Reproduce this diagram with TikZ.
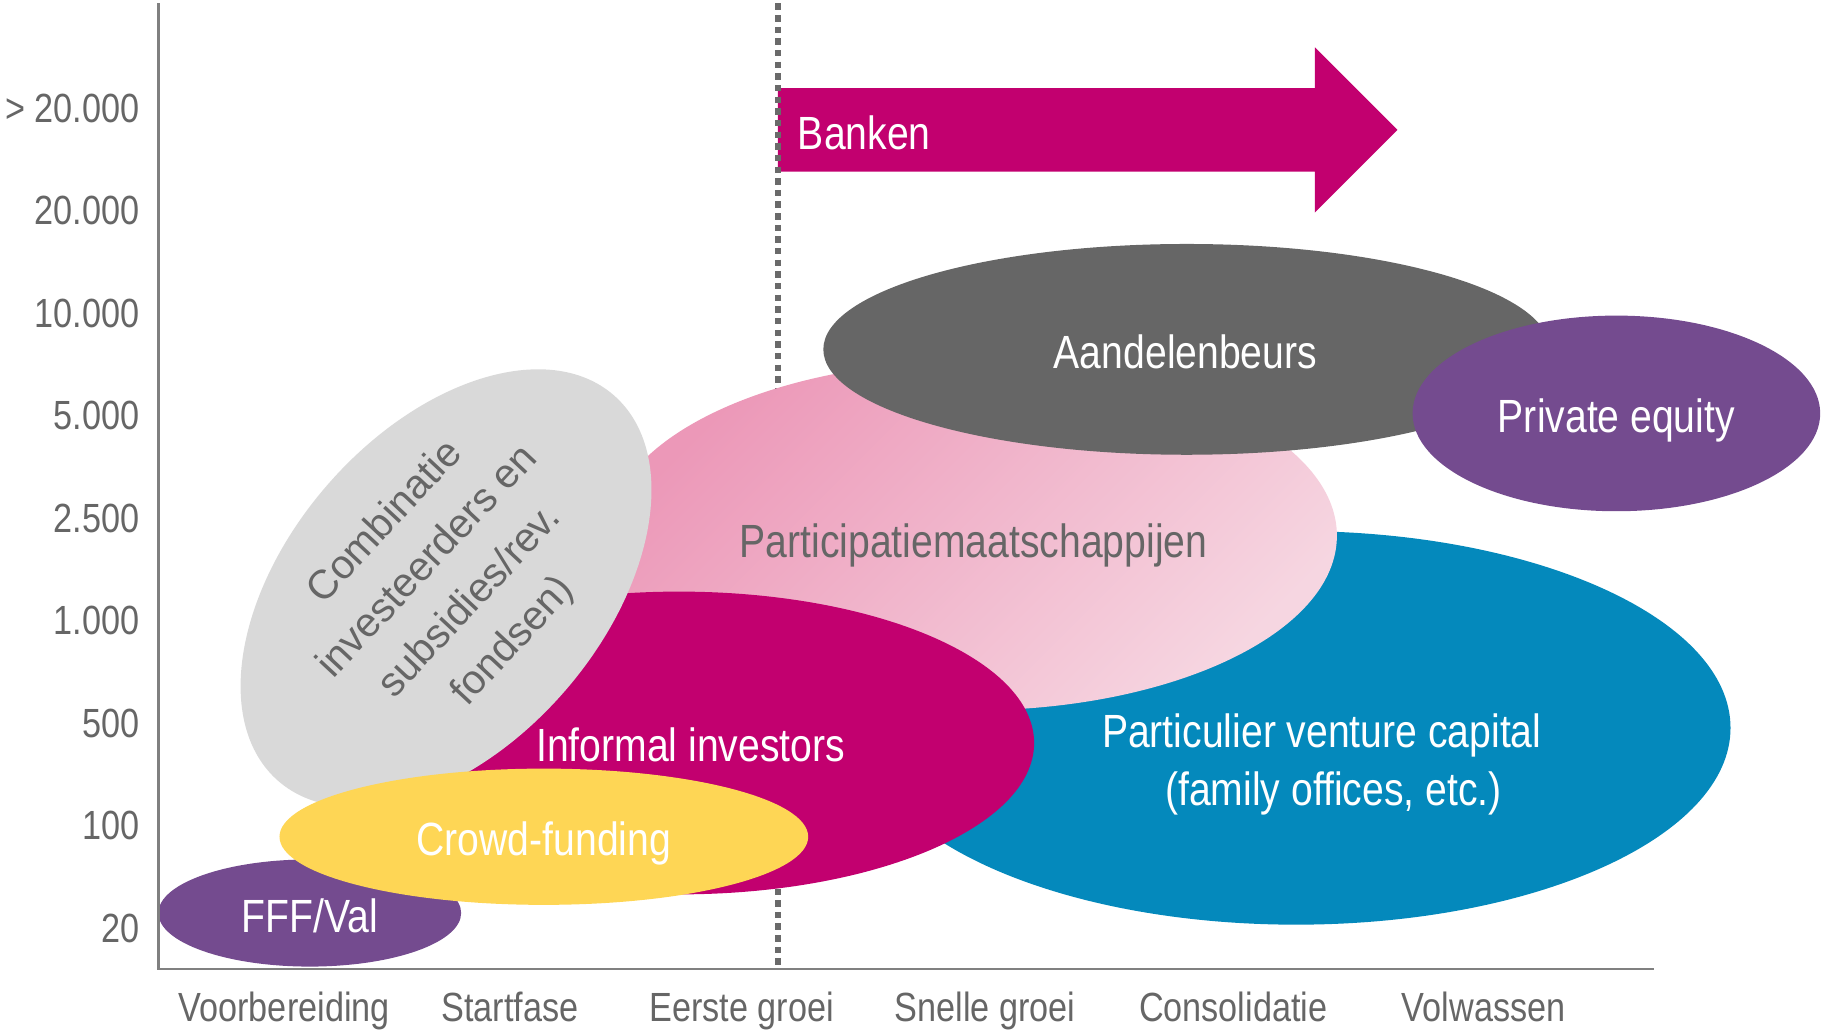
\documentclass[tikz,border=0pt]{standalone}
\usepackage{fontspec}
\setmainfont{Liberation Sans}
\newfontfamily\narrowfont{Liberation Sans}[FakeStretch=0.84]
\newfontfamily\widefont{Liberation Sans}
\usetikzlibrary{shapes.geometric}
\definecolor{magentaC}{HTML}{C2006F}
\definecolor{darkgrayC}{HTML}{666666}
\definecolor{lightgrayC}{HTML}{D9D9D9}
\definecolor{purpleC}{HTML}{744B8F}
\definecolor{yellowC}{HTML}{FED655}
\definecolor{blueC}{HTML}{0489BC}
\definecolor{pinkA}{HTML}{EC98B8}
\definecolor{pinkB}{HTML}{F6D6E1}
\definecolor{textgray}{HTML}{666666}
\definecolor{axisgray}{HTML}{808080}
\definecolor{dashgray}{HTML}{6A6A6A}
\begin{document}
\begin{tikzpicture}[x=1pt,y=-1pt,
  blob/.style={ellipse, inner sep=0pt, outer sep=0pt, draw=none},
  biglabel/.style={font=\narrowfont\fontsize{40}{50}\selectfont, text=white, inner sep=0pt, anchor=base, align=center},
  axislabel/.style={font=\narrowfont\fontsize{35}{40}\selectfont, text=textgray, inner sep=0pt},
  axisline/.style={draw=axisgray, line width=2pt},
]
\useasboundingbox (0,0) rectangle (1568,884);

% Banken arrow
\fill[magentaC] (668,75.7) -- (1129,75.7) -- (1129,40.6) -- (1200,111.6) -- (1129,182.6) -- (1129,147.4) -- (668,147.4) -- cycle;

% dashed separator
\coordinate (dtop) at (668,3);
\coordinate (dbot) at (668,832);
\draw[dashgray, line width=4.5pt, dash pattern=on 5.5pt off 4.5pt] (dtop) -- (dbot);

% ellipses
\node[blob, fill=blueC, minimum width=746pt, minimum height=338pt] (pvc) at (1113,625) {};
\node[blob, top color=pinkA, bottom color=pinkB, shading angle=45, minimum width=626pt, minimum height=300pt] (pm) at (835,460) {};
\node[blob, fill=darkgrayC, minimum width=624pt, minimum height=181pt] (ab) at (1019,300) {};
\node[blob, fill=purpleC, minimum width=350pt, minimum height=168pt] (pe) at (1388,355) {};
\node[blob, fill=magentaC, minimum width=610pt, minimum height=260pt] (ii) at (583,638) {};
\node[blob, fill=lightgrayC, rotate=49, minimum width=439pt, minimum height=270pt] (comb) at (383,505) {};
\node[blob, fill=purpleC, minimum width=260pt, minimum height=92pt] (fff) at (266,784) {};
\node[blob, fill=yellowC, minimum width=454pt, minimum height=117pt] (cf) at (467,718.5) {};

% labels in shapes
\node[biglabel, anchor=base west] (tbank) at (685,128) {Banken};
\node[biglabel] (tab) at (1018,316.5) {Aandelenbeurs};
\node[biglabel] (tpe) at (1388,371) {Private equity};
\node[biglabel, text=textgray] (tpm) at (836,479) {Participatiemaatschappijen};
\node[biglabel] (tii) at (593,654) {Informal investors};
\node[biglabel] (tpvc1) at (1135,642) {Particulier venture capital};
\node[biglabel] (tpvc2) at (1145,692) {(family offices, etc.)};
\node[biglabel] (tcf) at (467,735) {Crowd-funding};
\node[biglabel] (tfff) at (266,801) {FFF/Val};
\node[rotate=47, align=center, inner sep=0pt, text=textgray, font=\widefont\fontsize{35}{50}\selectfont] (tcomb) at (386,500) {Combinatie\\investeerders en\\subsidies/rev.\\fondsen)};

% axes
\coordinate (otop) at (136,3);
\coordinate (orig) at (136,832);
\coordinate (xend) at (1420,832);
\draw[axisline] (otop) -- (orig) -- (xend);

% y labels
\node[axislabel, anchor=east] (y1) at (120,93) {> 20.000};
\node[axislabel, anchor=east] (y2) at (120,181) {20.000};
\node[axislabel, anchor=east] (y3) at (120,269) {10.000};
\node[axislabel, anchor=east] (y4) at (120,357) {5.000};
\node[axislabel, anchor=east] (y5) at (120,445) {2.500};
\node[axislabel, anchor=east] (y6) at (120,533) {1.000};
\node[axislabel, anchor=east] (y7) at (120,621) {500};
\node[axislabel, anchor=east] (y8) at (120,709) {100};
\node[axislabel, anchor=east] (y9) at (120,797) {20};

% x labels
\node[axislabel, anchor=base] (x1) at (244,877) {Voorbereiding};
\node[axislabel, anchor=base] (x2) at (438,877) {Startfase};
\node[axislabel, anchor=base] (x3) at (637,877) {Eerste groei};
\node[axislabel, anchor=base] (x4) at (846,877) {Snelle groei};
\node[axislabel, anchor=base] (x5) at (1059,877) {Consolidatie};
\node[axislabel, anchor=base] (x6) at (1274,877) {Volwassen};
\end{tikzpicture}
\end{document}
